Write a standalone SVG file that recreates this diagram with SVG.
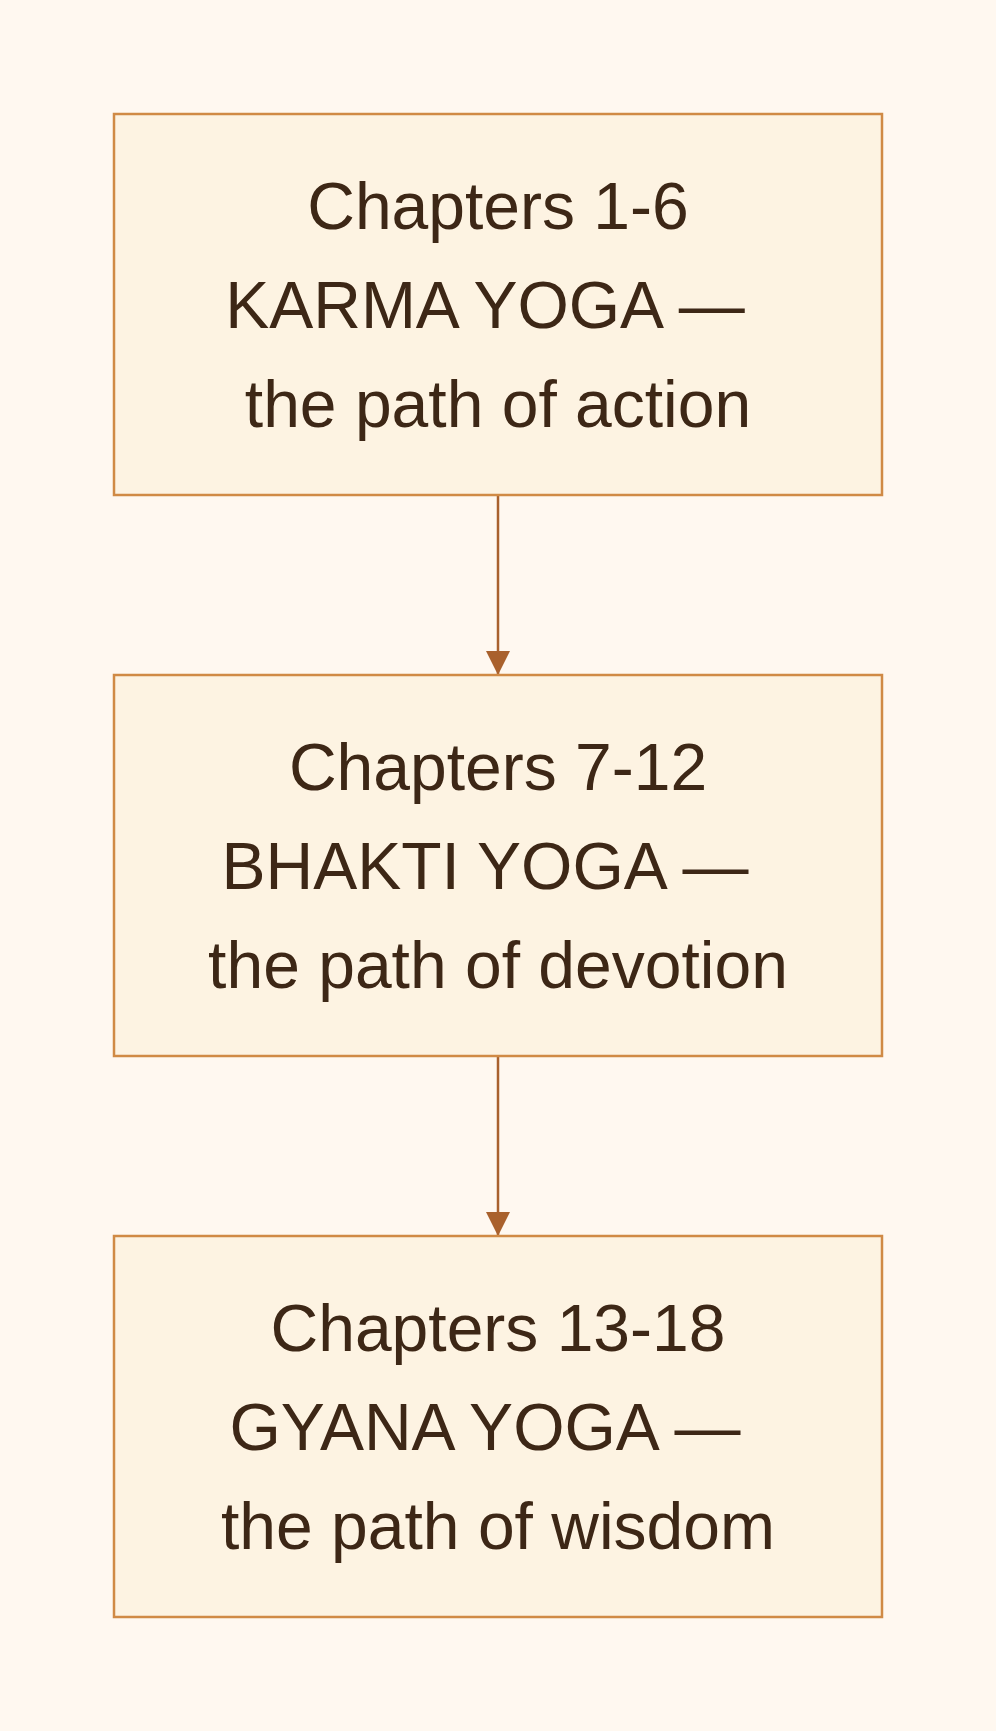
<svg xmlns="http://www.w3.org/2000/svg" width="996" height="1731" viewBox="0 0 996 1731">
<style>
.box{fill:#fdf3e2;stroke:#d08a45;stroke-width:2.5}
.t{font-family:"Liberation Sans",Arial,sans-serif;font-size:66px;fill:#3d2716;text-anchor:middle}
.e{stroke:#a9612d;stroke-width:2.5;fill:none}
</style>
<defs><marker id="b" viewBox="0 0 24 24" refX="24" refY="12" markerWidth="24" markerHeight="24" markerUnits="userSpaceOnUse" orient="auto"><path d="M0,0L24,12L0,24z" fill="#a9612d"/></marker></defs>
<rect width="996" height="1731" fill="#fff8f0"/>
<g id="edges">
<path class="e" d="M498,495V675" marker-end="url(#b)"/>
<path class="e" d="M498,1056V1236" marker-end="url(#b)"/>
</g>
<g id="n1"><rect class="box" x="114" y="114" width="768" height="381"/>
<text class="t" x="498" y="229">Chapters 1-6</text><text class="t" x="485" y="328">KARMA YOGA —</text><text class="t" x="498" y="427">the path of action</text></g>
<g id="n2"><rect class="box" x="114" y="675" width="768" height="381"/>
<text class="t" x="498" y="790">Chapters 7-12</text><text class="t" x="485" y="889">BHAKTI YOGA —</text><text class="t" x="498" y="988">the path of devotion</text></g>
<g id="n3"><rect class="box" x="114" y="1236" width="768" height="381"/>
<text class="t" x="498" y="1351">Chapters 13-18</text><text class="t" x="485" y="1450">GYANA YOGA —</text><text class="t" x="498" y="1549">the path of wisdom</text></g>
</svg>
